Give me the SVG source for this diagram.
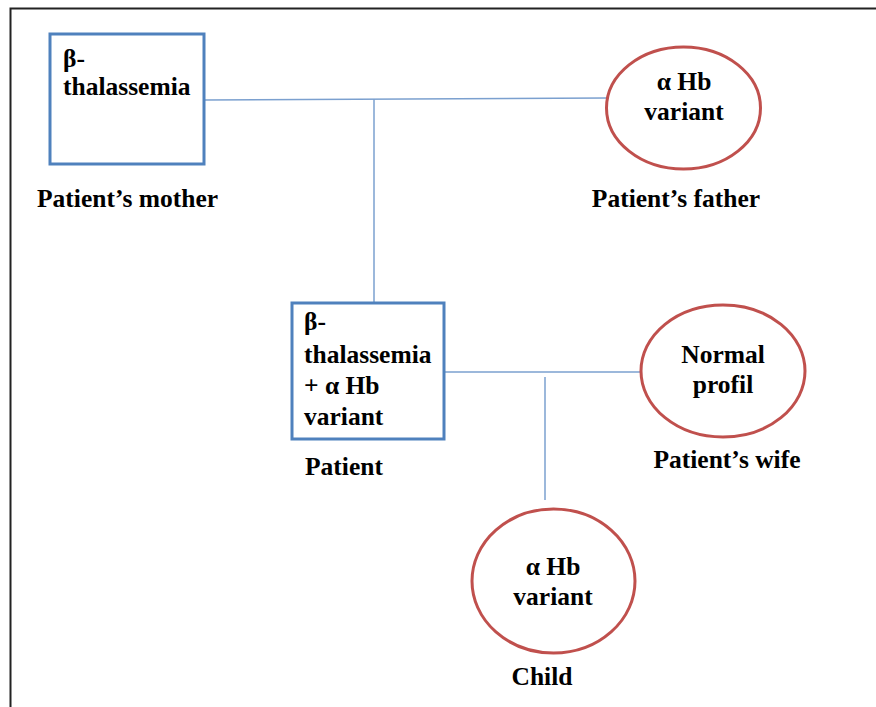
<svg xmlns="http://www.w3.org/2000/svg" width="876" height="707" viewBox="0 0 876 707">
<style>
text{font-family:"Liberation Serif","Times New Roman",serif;font-weight:bold;font-size:25.5px;fill:#000}
.m{text-anchor:middle}
.box{fill:#fff;stroke:#4f81bd;stroke-width:3}
.circ{fill:#fff;stroke:#c0504d;stroke-width:3}
.ln{stroke:#7ba0cf;stroke-width:1.5;fill:none}
</style>
<rect width="876" height="707" fill="#fff"/>
<path d="M10.5 707 V8.5 H876" fill="none" stroke="#222" stroke-width="2"/>
<g id="connectors">
<path class="ln" d="M204 100 L607 98"/>
<path class="ln" d="M374 99 V302"/>
<path class="ln" d="M444 372 H641"/>
<path class="ln" d="M545 377 V500"/>
</g>
<g id="mother">
<rect class="box" x="50" y="34" width="154" height="130"/>
<text x="63" y="67">β-</text>
<text x="63" y="95">thalassemia</text>
<text x="37" y="207">Patient’s mother</text>
</g>
<g id="father">
<ellipse class="circ" cx="683.5" cy="108" rx="77" ry="61"/>
<text class="m" x="684" y="90">α Hb</text>
<text class="m" x="684" y="120">variant</text>
<text class="m" x="676" y="207">Patient’s father</text>
</g>
<g id="patient">
<rect class="box" x="292" y="303" width="152" height="136"/>
<text x="304" y="330">β-</text>
<text x="304" y="363">thalassemia</text>
<text x="304" y="394">+ α Hb</text>
<text x="304" y="425">variant</text>
<text x="305" y="475">Patient</text>
</g>
<g id="wife">
<ellipse class="circ" cx="723" cy="371" rx="82" ry="66"/>
<text class="m" x="723" y="363">Normal</text>
<text class="m" x="723" y="393">profil</text>
<text class="m" x="727" y="468">Patient’s wife</text>
</g>
<g id="child">
<ellipse class="circ" cx="553.5" cy="581" rx="81.5" ry="72"/>
<text class="m" x="553" y="575">α Hb</text>
<text class="m" x="553" y="605">variant</text>
<text class="m" x="542" y="685">Child</text>
</g>
</svg>
